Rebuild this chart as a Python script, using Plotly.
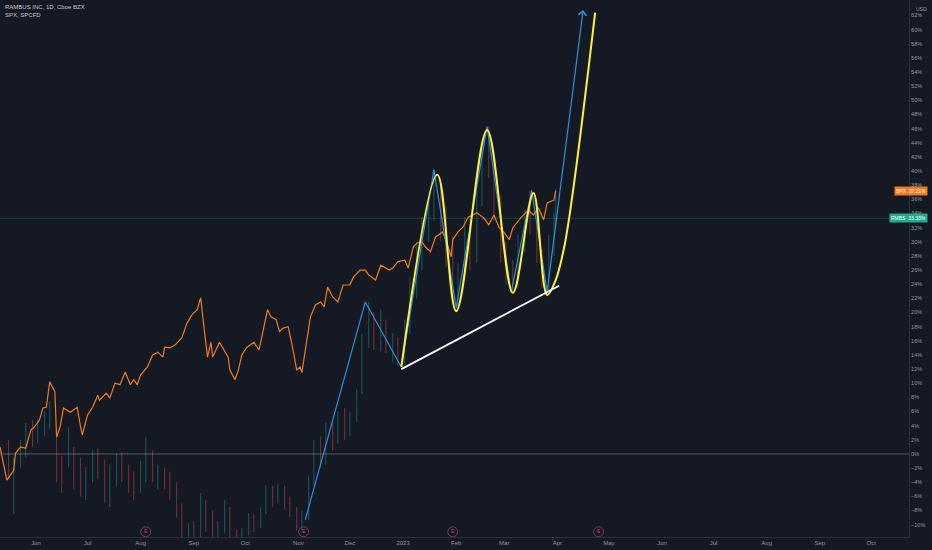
import plotly.graph_objects as go

# ---------------- data ----------------
# RAMBUS (RMBS) bars, % change
bar_dates = ["2022-05-16","2022-05-19","2022-05-23","2022-05-26","2022-05-30","2022-06-02","2022-06-06","2022-06-09",
             "2022-06-13","2022-06-16","2022-06-20","2022-06-23","2022-06-27","2022-06-30","2022-07-04","2022-07-07",
             "2022-07-11","2022-07-14","2022-07-18","2022-07-21","2022-07-25","2022-07-28","2022-08-01","2022-08-04",
             "2022-08-08","2022-08-11","2022-08-15","2022-08-18","2022-08-22","2022-08-25","2022-08-29","2022-09-01",
             "2022-09-05","2022-09-08","2022-09-12","2022-09-15","2022-09-19","2022-09-22","2022-09-26","2022-09-29",
             "2022-10-03","2022-10-06","2022-10-10","2022-10-13","2022-10-17","2022-10-20","2022-10-24","2022-10-27",
             "2022-10-31","2022-11-03","2022-11-07","2022-11-10","2022-11-14","2022-11-17","2022-11-21","2022-11-24",
             "2022-11-28","2022-12-01","2022-12-05","2022-12-08","2022-12-12","2022-12-15","2022-12-19","2022-12-22",
             "2022-12-26","2022-12-29","2023-01-02","2023-01-05","2023-01-09","2023-01-12","2023-01-16","2023-01-19",
             "2023-01-23","2023-01-26","2023-01-30","2023-02-02","2023-02-06","2023-02-09","2023-02-13","2023-02-16",
             "2023-02-20","2023-02-23","2023-02-27","2023-03-02","2023-03-06","2023-03-09","2023-03-13","2023-03-16",
             "2023-03-20","2023-03-23","2023-03-27","2023-03-30","2023-03-31"]
bar_open = [1.0,-3.5,-1.0,1.0,3.0,2.0,3.5,5.0,3.0,-1.0,-1.0,0.5,-3.0,-4.0,-2.5,-1.0,
            -2.5,-5.0,-3.0,-1.5,-2.0,-4.5,-5.0,-2.0,0.0,-3.0,-2.5,-4.0,-5.5,-8.0,-11.0,-10.5,
            -11.5,-7.0,-10.0,-11.5,-10.5,-8.0,-11.0,-11.5,-11.0,-9.0,-10.0,-8.0,-5.0,-6.0,-5.0,-7.0,
            -8.0,-9.5,-9.0,-4.0,1.0,-1.0,3.5,1.5,5.0,3.0,5.5,9.0,16.0,19.0,15.5,18.5,
            15.0,16.0,13.0,18.0,24.0,29.0,32.0,35.0,37.0,31.0,28.0,23.0,26.0,31.0,27.5,37.0,
            42.0,41.0,34.0,28.0,25.0,24.0,30.0,33.5,32.0,28.0,24.5,30.0,33.3]
bar_high = [2.0,-0.5,2.0,4.4,4.8,5.0,6.0,7.5,3.5,-0.3,3.8,1.0,-0.5,-1.8,0.6,0.8,
            -0.8,-1.5,0.0,0.2,-1.5,-2.5,-1.0,2.4,0.5,-1.5,-2.0,-2.5,-4.0,-7.0,-9.8,-9.5,
            -5.5,-6.5,-8.0,-9.5,-6.5,-7.5,-10.6,-10.5,-8.4,-8.5,-7.5,-4.4,-4.5,-4.2,-4.5,-6.0,
            -7.5,-8.0,-3.0,2.0,2.5,4.4,4.5,6.0,6.5,6.0,9.1,17.0,21.5,20.0,20.4,19.0,
            17.1,16.5,19.0,25.0,30.0,33.5,36.0,40.2,38.0,35.0,30.7,27.0,33.5,33.0,38.0,43.0,
            46.3,42.0,36.5,30.0,27.4,31.0,34.5,37.3,33.0,29.0,31.0,34.0,37.5]
bar_low = [-3.5,-8.5,-2.0,-0.5,1.0,1.5,2.5,3.5,-4.0,-5.5,-1.8,-5.0,-6.0,-6.5,-4.0,-3.5,
           -7.0,-7.5,-4.6,-4.0,-5.5,-6.5,-5.5,-4.0,-4.0,-5.0,-5.0,-6.5,-9.0,-12.5,-12.5,-12.5,
           -12.5,-11.0,-12.5,-12.5,-11.2,-12.0,-12.5,-12.5,-11.5,-11.0,-10.5,-8.5,-7.5,-7.0,-7.9,-8.9,
           -10.8,-10.8,-9.3,-4.5,-2.0,-1.5,0.5,1.5,2.0,2.5,4.5,8.5,15.0,14.7,14.5,14.3,
           13.0,12.5,12.5,17.0,22.0,26.0,30.0,33.0,30.0,26.4,22.0,20.7,24.5,26.0,27.0,35.0,
           39.0,33.0,27.0,24.0,22.8,23.5,28.5,31.0,27.0,23.5,22.9,28.0,32.0]
bar_close = [-3.0,-1.0,1.5,3.5,2.0,4.0,5.5,6.5,-2.5,-4.5,2.5,-3.0,-4.0,-2.5,-0.5,-2.5,
             -5.0,-3.0,-1.0,-2.0,-4.5,-5.5,-2.0,0.0,-3.0,-2.5,-4.0,-5.5,-8.0,-11.0,-10.5,-11.5,
             -7.0,-10.0,-11.5,-10.5,-8.0,-11.0,-11.5,-11.0,-9.0,-10.0,-8.0,-5.0,-6.0,-5.0,-7.0,-8.0,
             -9.5,-9.0,-4.0,1.0,-1.0,3.5,1.5,5.0,3.0,5.5,8.5,16.0,19.0,15.5,18.5,15.0,
             16.0,13.0,18.0,24.0,29.0,32.0,35.0,37.0,31.0,28.0,23.0,26.0,31.0,27.5,37.0,42.0,
             41.0,34.0,28.0,25.0,24.0,30.0,33.5,32.0,28.0,24.5,30.0,33.3,33.33]

# SPX comparison line, % change
spx_dates = ["2022-05-11","2022-05-15","2022-05-19","2022-05-20","2022-05-23","2022-05-26","2022-05-29","2022-05-31",
             "2022-06-03","2022-06-05","2022-06-07","2022-06-09","2022-06-12","2022-06-13","2022-06-15","2022-06-17",
             "2022-06-21","2022-06-25","2022-06-27","2022-06-28","2022-07-01","2022-07-04","2022-07-07","2022-07-08",
             "2022-07-10","2022-07-12","2022-07-14","2022-07-17","2022-07-20","2022-07-23","2022-07-26","2022-07-28",
             "2022-07-30","2022-08-01","2022-08-05","2022-08-08","2022-08-11","2022-08-14","2022-08-15","2022-08-18",
             "2022-08-21","2022-08-25","2022-08-28","2022-08-31","2022-09-03","2022-09-05","2022-09-07","2022-09-09",
             "2022-09-11","2022-09-12","2022-09-16","2022-09-21","2022-09-22","2022-09-25","2022-09-27","2022-09-29",
             "2022-10-02","2022-10-06","2022-10-09","2022-10-14","2022-10-16","2022-10-19","2022-10-21","2022-10-23",
             "2022-10-26","2022-10-28","2022-10-31","2022-11-02","2022-11-03","2022-11-08","2022-11-11","2022-11-14",
             "2022-11-16","2022-11-18","2022-11-21","2022-11-24","2022-11-27","2022-12-01","2022-12-03","2022-12-07",
             "2022-12-10","2022-12-12","2022-12-16","2022-12-19","2022-12-24","2022-12-26","2022-12-29","2023-01-02",
             "2023-01-04","2023-01-07","2023-01-09","2023-01-12","2023-01-14","2023-01-17","2023-01-20","2023-01-24",
             "2023-01-26","2023-01-29","2023-01-30","2023-02-02","2023-02-05","2023-02-08","2023-02-13","2023-02-17",
             "2023-02-20","2023-02-23","2023-02-26","2023-03-01","2023-03-04","2023-03-06","2023-03-11","2023-03-15",
             "2023-03-18","2023-03-21","2023-03-24","2023-03-26","2023-03-30","2023-03-31"]
spx_pct = [1.0,-3.7,-2.3,0.1,1.0,0.8,3.4,3.8,4.8,6.5,6.6,10.2,8.8,2.4,3.8,6.5,
           5.9,6.6,3.8,2.7,5.5,6.6,8.3,7.6,8.1,8.6,7.9,10.0,9.8,11.6,9.8,10.5,
           9.8,11.2,12.3,14.0,14.4,13.7,15.1,15.0,15.4,16.4,18.5,19.7,20.4,22.1,17.8,13.7,
           15.8,13.7,15.8,13.7,11.9,10.5,11.9,14.0,15.1,15.8,14.7,20.4,19.4,19.0,17.3,17.8,
           18.0,15.8,11.9,12.3,11.5,19.4,21.1,21.5,20.8,23.6,22.2,21.5,23.9,23.9,25.0,26.0,
           26.0,25.3,24.6,26.7,26.0,26.3,27.2,27.4,26.3,29.3,29.8,30.0,29.3,28.6,30.7,31.4,
           30.3,27.9,30.3,31.4,32.1,33.5,34.1,33.4,32.4,33.8,32.0,31.3,30.3,32.0,33.5,34.5,
           33.8,34.8,33.1,35.5,35.9,37.21]

# zig-zag drawing (blue)
zz_dates = ["2022-11-05","2022-12-10","2022-12-31","2023-01-19","2023-02-01","2023-02-19",
            "2023-03-05","2023-03-17","2023-03-26","2023-04-16"]
zz_pct = [-9.3,21.5,12.3,40.2,20.7,46.3,22.8,37.3,22.9,62.8]

# curve drawing (yellow)
curve_dates = ["2022-12-31","2023-01-21","2023-02-01","2023-02-19","2023-03-06","2023-03-18",
               "2023-03-26","2023-03-31","2023-04-05","2023-04-11","2023-04-23"]
curve_pct = [12.3,39.5,20.2,45.8,22.8,36.9,22.5,24.6,29.3,38.8,62.4]

# trend line (white)
trend_dates = ["2022-12-31","2023-04-02"]
trend_pct = [12.0,23.8]

# earnings events
event_dates = ["2022-08-04","2022-11-04","2023-01-30","2023-04-25"]
event_level = [-11.0,-11.0,-11.0,-11.0]

month_ticks = ["2022-06-01","2022-07-01","2022-08-01","2022-09-01","2022-10-01","2022-11-01","2022-12-01",
               "2023-01-01","2023-02-01","2023-03-01","2023-04-01","2023-05-01","2023-06-01","2023-07-01",
               "2023-08-01","2023-09-01","2023-10-01"]
month_labels = ["Jun","Jul","Aug","Sep","Oct","Nov","Dec","2023","Feb","Mar","Apr","May","Jun","Jul",
                "Aug","Sep","Oct"]
y_ticks = list(range(-10, 65, 2))
y_tick_labels = [("\u2212" if v < 0 else "") + f"{abs(v)}%" for v in y_ticks]

# ---------------- figure ----------------
BG = "#151924"
TXT = "#9598a1"
FONT = "Liberation Sans"

fig = go.Figure()

fig.add_trace(go.Ohlc(
    x=bar_dates, open=bar_open, high=bar_high, low=bar_low, close=bar_close,
    increasing=dict(line=dict(color="rgba(38,166,154,0.45)", width=1)),
    decreasing=dict(line=dict(color="rgba(239,83,80,0.45)", width=1)),
    tickwidth=0.15, hoverinfo="skip", showlegend=False))

fig.add_trace(go.Scatter(x=spx_dates, y=spx_pct, mode="lines",
                         line=dict(color="#f07a1e", width=1.2), hoverinfo="skip", showlegend=False))

fig.add_trace(go.Scatter(x=zz_dates[:-1], y=zz_pct[:-1], mode="lines",
                         line=dict(color="#2e8fdc", width=1.2), hoverinfo="skip", showlegend=False))

fig.add_trace(go.Scatter(x=curve_dates, y=curve_pct, mode="lines",
                         line=dict(color="#fff03c", width=2, shape="spline", smoothing=1.0),
                         hoverinfo="skip", showlegend=False))

fig.add_trace(go.Scatter(x=trend_dates, y=trend_pct, mode="lines",
                         line=dict(color="#ffffff", width=1.8), hoverinfo="skip", showlegend=False))

fig.add_trace(go.Scatter(x=event_dates, y=event_level, mode="markers+text", text=["E"] * len(event_dates),
                         textposition="middle center",
                         textfont=dict(size=5, color="#c0466e", family=FONT),
                         marker=dict(symbol="circle-open", size=10, color="#8f2f52", line=dict(width=1)),
                         cliponaxis=False, hoverinfo="skip", showlegend=False))

# last leg of the zig-zag with an arrow head
fig.add_annotation(x=zz_dates[-1], y=zz_pct[-1], ax=zz_dates[-2], ay=zz_pct[-2],
                   xref="x", yref="y", axref="x", ayref="y", showarrow=True,
                   arrowhead=4, arrowsize=1.3, arrowwidth=1.2, arrowcolor="#2e8fdc", text="")

# reference lines
fig.add_hline(y=0, line=dict(color="rgba(150,155,165,0.5)", width=1))
fig.add_hline(y=bar_close[-1], line=dict(color="rgba(38,166,154,0.28)", width=1))

# header text
fig.add_annotation(xref="paper", yref="paper", x=0.003, y=0.997, xanchor="left", yanchor="top",
                   text="RAMBUS INC, 1D, Cboe BZX", showarrow=False,
                   font=dict(size=6, color="#c4c7ce", family=FONT))
fig.add_annotation(xref="paper", yref="paper", x=0.003, y=0.982, xanchor="left", yanchor="top",
                   text="SPX, SPCFD", showarrow=False,
                   font=dict(size=6, color="#c4c7ce", family=FONT))
fig.add_annotation(xref="paper", yref="paper", x=1.005, y=0.992, xanchor="left", yanchor="top",
                   text="USD", showarrow=False, font=dict(size=5, color=TXT, family=FONT))

# price tags on the axis
fig.add_annotation(xref="paper", yref="y", x=1.021, y=spx_pct[-1], xanchor="right", yanchor="middle",
                   text="SPX  " + f"{spx_pct[-1]:.2f}%", showarrow=False, bgcolor="#f07a1e",
                   borderpad=1, font=dict(size=5, color="#ffffff", family=FONT))
fig.add_annotation(xref="paper", yref="y", x=1.021, y=bar_close[-1], xanchor="right", yanchor="middle",
                   text="RMBS  " + f"{bar_close[-1]:.2f}%", showarrow=False, bgcolor="#22a98f",
                   borderpad=1, font=dict(size=5, color="#ffffff", family=FONT))

fig.update_layout(
    width=932, height=550,
    margin=dict(l=0, r=23, t=0, b=13, pad=0, autoexpand=False),
    paper_bgcolor=BG, plot_bgcolor=BG,
    showlegend=False,
    font=dict(family=FONT, color=TXT, size=6),
    xaxis=dict(type="date", range=["2022-05-11", "2023-10-23"],
               tickvals=month_ticks, ticktext=month_labels, automargin=False,
               showgrid=False, zeroline=False, showline=True, linecolor="#2a2e39", linewidth=1,
               ticks="", ticklen=0, tickfont=dict(size=6, color=TXT), rangeslider=dict(visible=False),
               mirror=False),
    yaxis=dict(side="right", range=[-11.74, 64.2], tickmode="array", tickvals=y_ticks,
               ticktext=y_tick_labels, automargin=False,
               showgrid=False, zeroline=False, showline=True, linecolor="#2a2e39", linewidth=1,
               ticks="", ticklen=0, tickfont=dict(size=5.5, color=TXT)),
)

fig.write_html("out.html", config={"displayModeBar": False},
               post_script="document.body.style.margin='0';document.body.style.background='#151924';")
